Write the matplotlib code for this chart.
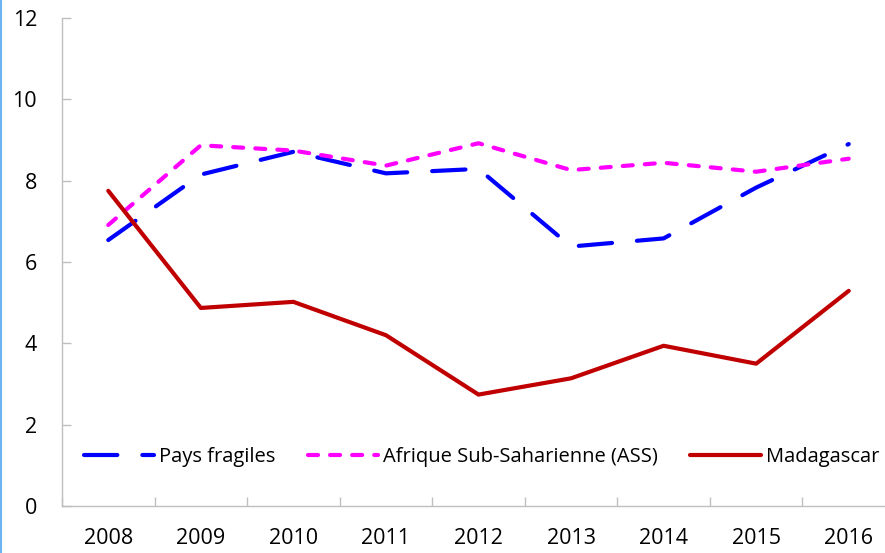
import matplotlib.pyplot as plt
from matplotlib.lines import Line2D

plt.rcParams['font.family'] = ['Open Sans', 'DejaVu Sans']

years = ['2008', '2009', '2010', '2011', '2012', '2013', '2014', '2015', '2016']
pays_fragiles = [6.54, 8.15, 8.71, 8.18, 8.29, 6.38, 6.58, 7.83, 8.90]
afrique_ass = [6.91, 8.87, 8.74, 8.37, 8.92, 8.26, 8.44, 8.22, 8.54]
madagascar = [7.75, 4.87, 5.02, 4.20, 2.74, 3.14, 3.94, 3.50, 5.29]

fig = plt.figure(figsize=(8.85, 5.53), dpi=100)
ax = fig.add_axes([62 / 885, 47 / 553, 833 / 885, 488 / 553])

x = range(len(years))
ax.plot(x, pays_fragiles, color='#0000FF', lw=3, linestyle=(0, (8, 6)),
        dash_capstyle='round', solid_capstyle='round', label='Pays fragiles')
ax.plot(x, afrique_ass, color='#FF00FF', lw=3, linestyle=(0, (2.4, 2.9)),
        dash_capstyle='round', solid_capstyle='round',
        label='Afrique Sub-Saharienne (ASS)')
ax.plot(x, madagascar, color='#C00000', lw=3, solid_capstyle='round',
        label='Madagascar')

ax.set_xlim(-0.5, len(years) - 0.5)
ax.set_ylim(0, 12)
ax.set_yticks(range(0, 13, 2))

# ticks between categories, labels at category centres
ax.set_xticks([i - 0.5 for i in range(len(years) + 1)])
ax.set_xticklabels([])
ax.set_xticks(list(x), minor=True)
ax.set_xticklabels(years, minor=True)
ax.tick_params(axis='x', which='major', direction='in', length=6.5,
               color='#BFBFBF', width=1)
ax.tick_params(axis='x', which='minor', length=0, pad=16, labelsize=15.5)
ax.tick_params(axis='y', direction='in', length=6.5, color='#BFBFBF',
               width=1, pad=18, labelsize=15.5)

for s in ['top', 'right']:
    ax.spines[s].set_visible(False)
for s in ['left', 'bottom']:
    ax.spines[s].set_color('#BFBFBF')
    ax.spines[s].set_linewidth(1)

ax.legend(loc='center', bbox_to_anchor=(0.5036, 0.1), ncol=3, frameon=False,
          fontsize=14.5, handlelength=3.5, handletextpad=0.25,
          columnspacing=1.6)

fig.add_artist(Line2D([0.001, 0.001], [0, 1], color='#6CB4F0', lw=1.5,
                      transform=fig.transFigure))

fig.savefig('out.png', dpi=100)
